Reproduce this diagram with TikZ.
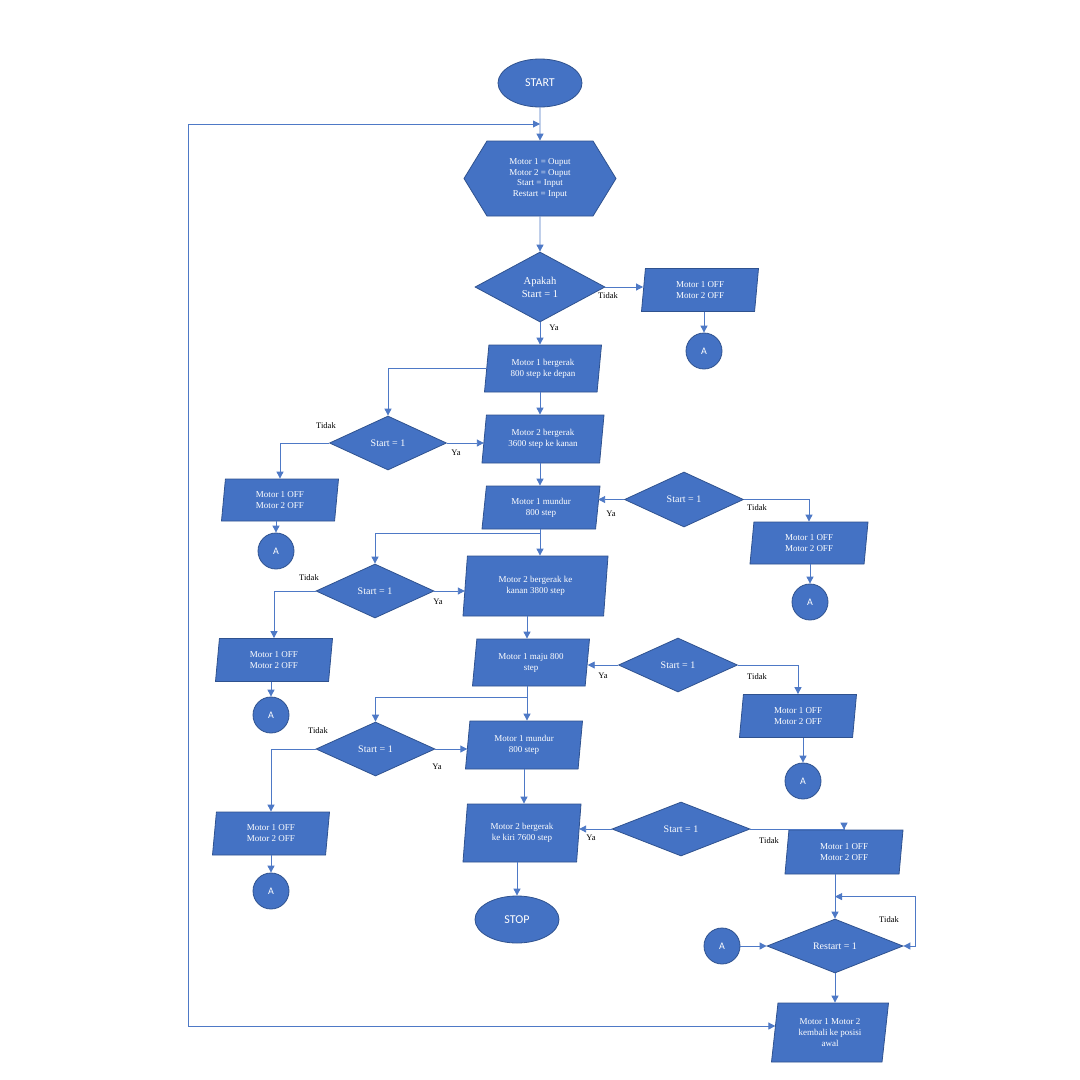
\documentclass[tikz,border=0pt]{standalone}
\usepackage{fontspec}
\setmainfont{Liberation Serif}
\newfontfamily\calibri{Carlito}
\usetikzlibrary{shapes,shapes.geometric,shapes.symbols,arrows.meta,calc,positioning}
\definecolor{boxblue}{RGB}{68,114,196}
\definecolor{edgeblue}{RGB}{47,82,143}
\definecolor{lineblue}{RGB}{78,121,198}
\tikzset{
    >={Triangle[length=7pt,width=7pt]},
    flow/.style = {->, draw=lineblue, line width=0.9pt},
    bidirected/.style = {<->, draw=lineblue, line width=0.9pt},
    base/.style = {draw=edgeblue, fill=boxblue, text=white, line width=0.8pt, align=center, inner sep=0pt},
    term/.style = {base, ellipse, minimum width=84pt, minimum height=48pt, font=\calibri\fontsize{12}{14}\selectfont},
    conn/.style = {base, circle, minimum size=36pt, font=\calibri\fontsize{10}{12}\selectfont},
    proc/.style = {base, trapezium, trapezium left angle=77, trapezium right angle=103,
        trapezium stretches body, minimum width=117pt, minimum height=43pt,
        font=\fontsize{9}{11}\selectfont},
    dec/.style = {base, diamond, minimum width=118pt, minimum height=54pt,
        font=\fontsize{10}{12}\selectfont},
    prep/.style = {base, signal, signal to=east and west, signal pointer angle=117,
        minimum width=152pt, minimum height=75pt, font=\fontsize{9}{10.5}\selectfont},
    el/.style = {inner sep=0pt, font=\fontsize{8.5}{10}\selectfont}
}
\begin{document}
\begin{tikzpicture}[x=1pt,y=-1pt]
    \useasboundingbox (0,0) rectangle (1080,1080);
    \fill[white] (0,0) rectangle (1080,1080);

    % main column
    \node[term] (start) at (540,83) {START};
    \node[prep] (hex) at (540,178.5) {Motor 1 = Ouput\\Motor 2 = Ouput\\Start = Input\\Restart = Input};
    \node[dec, minimum width=130pt, minimum height=70pt, font=\fontsize{10.5}{13}\selectfont] (d1) at (540,287) {Apakah\\Start = 1};
    \node[proc, minimum height=47pt] (p1) at (543,368.5) {Motor 1 bergerak\\800 step ke depan};
    \node[proc, minimum width=122pt, minimum height=48pt] (p2) at (543,439) {Motor 2 bergerak\\3600 step ke kanan};
    \node[proc, minimum width=118pt] (p3) at (541,507.5) {Motor 1 mundur\\800 step};
    \node[proc, minimum width=145pt, minimum height=60pt] (p4) at (535.5,586) {Motor 2 bergerak ke\\kanan 3800 step};
    \node[proc, minimum height=47pt] (p5) at (531,662.5) {Motor 1 maju 800\\step};
    \node[proc, minimum height=48pt] (p6) at (524,745) {Motor 1 mundur\\800 step};
    \node[proc, minimum width=118pt, minimum height=58pt] (p7) at (522,833) {Motor 2 bergerak\\ke kiri 7600 step};
    \node[term, minimum height=47pt] (stop) at (517,919.5) {STOP};

    % decisions
    \node[dec, minimum width=117pt] (d2) at (388,443) {Start = 1};
    \node[dec, minimum width=119pt, minimum height=55pt] (d3) at (684,499.5) {Start = 1};
    \node[dec] (d4) at (375,591) {Start = 1};
    \node[dec, minimum width=119pt] (d5) at (678,665) {Start = 1};
    \node[dec, minimum width=119pt] (d6) at (375.5,749) {Start = 1};
    \node[dec, minimum width=138pt] (d7) at (681,829) {Start = 1};
    \node[dec, minimum width=136pt] (d8) at (835,946) {Restart = 1};

    % motors off
    \node[proc] (off1) at (700,290) {Motor 1 OFF\\Motor 2 OFF};
    \node[proc, minimum height=42pt] (off2) at (280,500) {Motor 1 OFF\\Motor 2 OFF};
    \node[proc, minimum width=118pt, minimum height=42pt] (off3) at (809,543) {Motor 1 OFF\\Motor 2 OFF};
    \node[proc] (off4) at (274,660) {Motor 1 OFF\\Motor 2 OFF};
    \node[proc] (off5) at (798,716) {Motor 1 OFF\\Motor 2 OFF};
    \node[proc] (off6) at (271,833.5) {Motor 1 OFF\\Motor 2 OFF};
    \node[proc, minimum width=118pt, minimum height=44pt] (off7) at (844,852) {Motor 1 OFF\\Motor 2 OFF};
    \node[proc, minimum height=59pt] (p8) at (830,1032.5) {Motor 1 Motor 2\\kembali ke posisi\\awal};

    % connectors A
    \node[conn] (a1) at (704,351) {A};
    \node[conn] (a2) at (276,551) {A};
    \node[conn] (a3) at (810,602) {A};
    \node[conn] (a4) at (271,715) {A};
    \node[conn] (a5) at (803,781) {A};
    \node[conn] (a6) at (271,891) {A};
    \node[conn] (a7) at (722,946) {A};

    % labels
    \node[el] (t1) at (608,296) {Tidak};
    \node[el] (y1) at (554,328) {Ya};
    \node[el] (t2) at (326,426) {Tidak};
    \node[el] (y2) at (456,453) {Ya};
    \node[el] (t3) at (757,508) {Tidak};
    \node[el] (y3) at (611,514) {Ya};
    \node[el] (t4) at (309,578) {Tidak};
    \node[el] (y4) at (438,602) {Ya};
    \node[el] (t5) at (757,677) {Tidak};
    \node[el] (y5) at (603,676) {Ya};
    \node[el] (t6) at (318,731) {Tidak};
    \node[el] (y6) at (437,767) {Ya};
    \node[el] (t7) at (769,841) {Tidak};
    \node[el] (y7) at (591,838) {Ya};
    \node[el] (t8) at (889,920) {Tidak};

    % helper points
    \coordinate (topin) at ($(start.south)!0.5!(hex.north)$);
    \coordinate (lx) at (188,124);
    \coordinate (lb) at (188,1026);
    \coordinate (mc) at (527,0);
    \coordinate[below=4pt of p3.south] (b3);
    \coordinate[below=11pt of p5.south] (b5);
    \coordinate (loopin) at ($(d8.north)+(0,-22)$);

    % main flow
    \draw[flow] (start) -- (hex);
    \draw[flow] (hex) -- (d1);
    \draw[flow] (d1) -- (d1.south |- p1.north);
    \draw[flow] (d1.south |- p1.south) -- (d1.south |- p2.north);
    \draw[flow] (d1.south |- p2.south) -- (d1.south |- p3.north);
    \draw[flow] (d1.south |- p3.south) -- (d1.south |- p4.north);
    \draw[flow] (mc |- p4.south) -- (mc |- p5.north);
    \draw[flow] (mc |- p5.south) -- (mc |- p6.north);
    \draw[flow] (p6.south) -- (p6.south |- p7.north);
    \draw[flow] (stop |- p7.south) -- (stop);

    % side branches
    \draw[flow] (p1.west) -| (d2);
    \draw[flow] (d1.south |- b3) -| (d4);
    \draw[flow] (mc |- b5) -| (d6);

    % Ya
    \draw[flow] (d2.east) -- (d2.east -| p2.west);
    \draw[flow] (d3.west) -- (d3.west -| p3.east);
    \draw[flow] (d4.east) -- (d4.east -| p4.west);
    \draw[flow] (d5.west) -- (d5.west -| p5.east);
    \draw[flow] (d6.east) -- (d6.east -| p6.west);
    \draw[flow] (d7.west) -- (d7.west -| p7.east);

    % Tidak
    \draw[flow] (d1.east) -- (d1.east -| off1.west);
    \draw[flow] (d2.west) -| (off2);
    \draw[flow] (d3.east) -| (off3);
    \draw[flow] (d4.west) -| (off4);
    \draw[flow] (d5.east) -| (off5);
    \draw[flow] (d6.west) -| (off6);
    \draw[flow] (d7.east) -| (off7);

    % off to A
    \draw[flow] (a1 |- off1.south) -- (a1);
    \draw[flow] (a2 |- off2.south) -- (a2);
    \draw[flow] (a3 |- off3.south) -- (a3);
    \draw[flow] (a4 |- off4.south) -- (a4);
    \draw[flow] (a5 |- off5.south) -- (a5);
    \draw[flow] (a6 |- off6.south) -- (a6);

    % restart
    \draw[flow] (d8 |- off7.south) -- (d8);
    \draw[bidirected] (d8.east) -- ++(12,0) |- (loopin);
    \draw[flow] (a7) -- (d8);
    \draw[flow] (d8) -- (d8 |- p8.north);
    \draw[bidirected] ($(lb -| p8.west)+(1,0)$) -- (lb) -- (lx) -- (topin);
\end{tikzpicture}
\end{document}
